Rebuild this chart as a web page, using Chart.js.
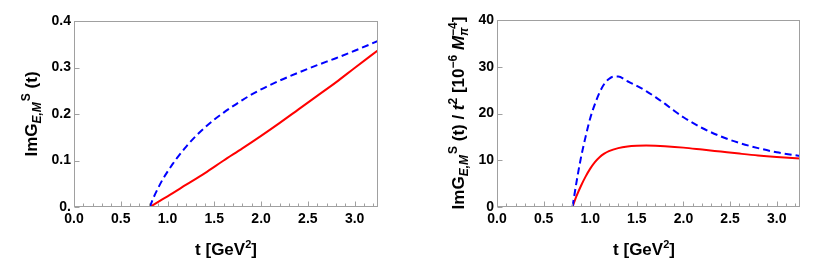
<!DOCTYPE html>
<html><head><meta charset="utf-8">
<script src="https://cdn.jsdelivr.net/npm/chart.js@4.4.0/dist/chart.umd.min.js"></script>
<style>
html,body{margin:0;padding:0;background:#fff;width:822px;height:269px;overflow:hidden}
#l,#r{position:absolute;top:0;width:411px;height:269px}
#l{left:0}#r{left:411px}
</style>
</head><body>
<div id="l"><canvas id="c1" width="411" height="269"></canvas></div>
<div id="r"><canvas id="c2" width="411" height="269"></canvas></div>
<script>
// ---- data ----
const xTicks = [0, 0.5, 1.0, 1.5, 2.0, 2.5, 3.0];
const leftYTicks = [0, 0.1, 0.2, 0.3, 0.4];
const rightYTicks = [0, 10, 20, 30, 40];

const tLeftDashed = [0.81, 0.85, 0.9, 0.95, 1.0, 1.05, 1.1, 1.2, 1.3, 1.4, 1.5, 1.6, 1.7, 1.8, 1.9, 2.0, 2.2, 2.4, 2.6, 2.8, 3.0, 3.25];
const leftDashed  = [0, 0.020, 0.041, 0.060, 0.076, 0.091, 0.105, 0.130, 0.152, 0.171, 0.188, 0.203, 0.217, 0.230, 0.242, 0.253, 0.272, 0.289, 0.305, 0.320, 0.336, 0.357];

const tLeftSolid = [0.81, 0.9, 1.0, 1.2, 1.4, 1.6, 1.8, 2.0, 2.2, 2.4, 2.6, 2.8, 3.0, 3.25];
const leftSolid  = [0, 0.011, 0.023, 0.048, 0.073, 0.100, 0.126, 0.153, 0.181, 0.210, 0.239, 0.268, 0.299, 0.337];

const tRightDashed = [0.81, 0.85, 0.9, 0.95, 1.0, 1.05, 1.1, 1.15, 1.2, 1.25, 1.3, 1.4, 1.5, 1.6, 1.7, 1.8, 1.9, 2.0, 2.2, 2.4, 2.6, 2.8, 3.0, 3.25];
const rightDashed  = [0, 5.0, 10.5, 15.0, 19.0, 22.0, 24.5, 26.3, 27.4, 27.9, 27.9, 26.9, 25.9, 24.8, 23.5, 22.1, 20.6, 19.2, 16.9, 15.1, 13.7, 12.6, 11.7, 10.9];

const tRightSolid = [0.81, 0.85, 0.9, 0.95, 1.0, 1.05, 1.1, 1.15, 1.2, 1.3, 1.4, 1.5, 1.6, 1.7, 1.8, 2.0, 2.2, 2.4, 2.6, 2.8, 3.0, 3.25];
const rightSolid  = [0, 2.2, 4.5, 6.5, 8.2, 9.6, 10.65, 11.4, 11.95, 12.6, 12.95, 13.1, 13.15, 13.1, 13.0, 12.7, 12.28, 11.85, 11.42, 11.02, 10.7, 10.38];

// ---- helpers ----
const FAM = '"Liberation Sans", Arial, Helvetica, sans-serif';
const F = (s, st) => `${st || 'bold'} ${s}px ${FAM}`;
const pts = (xs, ys) => xs.map((x, i) => ({x, y: ys[i]}));

function segWidth(ctx, s) {
  if (s.stack) return Math.max(...s.stack.map(q => segWidth(ctx, q)));
  ctx.font = s.f; return ctx.measureText(s.t).width + (s.gap || 0);
}
function drawSeg(ctx, s, x) {
  ctx.font = s.f; ctx.fillText(s.t, x + (s.pre || 0), s.dy || 0);
}
function drawRich(ctx, segs, cx, cy, rot) {
  ctx.save();
  ctx.translate(cx, cy);
  if (rot) ctx.rotate(-Math.PI / 2);
  const total = segs.reduce((a, s) => a + segWidth(ctx, s), 0);
  let x = -total / 2;
  ctx.fillStyle = '#000'; ctx.textBaseline = 'alphabetic'; ctx.textAlign = 'left';
  for (const s of segs) {
    if (s.stack) s.stack.forEach(q => drawSeg(ctx, q, x));
    else drawSeg(ctx, s, x);
    x += segWidth(ctx, s);
  }
  ctx.restore();
}

const framePlugin = {
  id: 'frameTicks',
  afterDatasetsDraw(chart, args, opts) {
    const {ctx, chartArea: a, scales: {x, y}} = chart;
    ctx.save();
    ctx.strokeStyle = '#a0a0a0'; ctx.lineWidth = 1;
    const L = Math.round(a.left) + 0.5, R = Math.round(a.right) - 0.5;
    const T = Math.round(a.top) + 0.5, B = Math.round(a.bottom) - 0.5;
    ctx.strokeRect(L, T, R - L, B - T);
    ctx.beginPath();
    for (let i = 0; i <= 32; i++) {
      const px = Math.round(x.getPixelForValue(i / 10)) + 0.5;
      const len = (i % 5 === 0) ? 5 : 3;
      ctx.moveTo(px, B); ctx.lineTo(px, B - len);
    }
    for (const v of opts.yTicks) {
      const py = Math.round(y.getPixelForValue(v)) + 0.5;
      ctx.moveTo(L, py); ctx.lineTo(L + 5, py);
    }
    ctx.stroke();
    ctx.restore();
  },
  afterDraw(chart, args, opts) {
    const ctx = chart.ctx;
    for (const t of opts.titles) drawRich(ctx, t.segs, t.x, t.y, t.rot);
  }
};

function makeChart(id, cfg) {
  return new Chart(document.getElementById(id), {
    type: 'line',
    data: {
      datasets: [
        {data: cfg.dashed, borderColor: '#0000ff', borderWidth: 2, borderDash: [7, 4], pointRadius: 0, cubicInterpolationMode: 'monotone', fill: false},
        {data: cfg.solid, borderColor: '#ff0000', borderWidth: 2, pointRadius: 0, cubicInterpolationMode: 'monotone', fill: false}
      ]
    },
    options: {
      responsive: false, animation: false, devicePixelRatio: 1,
      layout: {padding: {top: cfg.top, right: cfg.right, left: 0, bottom: 0}},
      plugins: {legend: {display: false}, tooltip: {enabled: false},
        frameTicks: {yTicks: cfg.yTicks, titles: cfg.titles}},
      scales: {
        x: {
          type: 'linear', min: 0, max: 3.25,
          grid: {display: false, drawTicks: false}, border: {display: false},
          afterBuildTicks: s => { s.ticks = xTicks.map(v => ({value: v})); },
          afterFit: s => { s.height = 269 - cfg.bottom; },
          ticks: {color: '#000', padding: 4, maxRotation: 0, autoSkip: false,
            font: {family: FAM, size: 14, weight: 'bold'},
            callback: v => Number(v).toFixed(1)}
        },
        y: {
          type: 'linear', min: 0, max: cfg.ymax,
          grid: {display: false, drawTicks: false}, border: {display: false},
          afterBuildTicks: s => { s.ticks = cfg.yTicks.map(v => ({value: v})); },
          afterFit: s => { s.width = cfg.left; },
          ticks: {color: '#000', padding: 3, autoSkip: false,
            font: {family: FAM, size: 14, weight: 'bold'},
            callback: cfg.yFmt}
        }
      }
    },
    plugins: [framePlugin]
  });
}

const xTitle = [
  {t: 't [GeV', f: F(17)}, {t: '2', f: F(11), dy: -7}, {t: ']', f: F(17)}
];

makeChart('c1', {
  dashed: pts(tLeftDashed, leftDashed), solid: pts(tLeftSolid, leftSolid),
  yTicks: leftYTicks, ymax: 0.4, left: 74, right: 33, top: 21, bottom: 207,
  yFmt: v => v === 0 ? '0.' : Number(v).toFixed(1),
  titles: [
    {segs: xTitle, x: 226, y: 255, rot: false},
    {segs: [
      {t: 'ImG', f: F(17)}, {t: 'E,M', f: F(12, 'italic bold'), dy: 4, gap: 1},
      {t: 'S', f: F(12), dy: -7}, {t: ' (t)', f: F(17)}
    ], x: 36.5, y: 114, rot: true}
  ]
});

makeChart('c2', {
  dashed: pts(tRightDashed, rightDashed), solid: pts(tRightSolid, rightSolid),
  yTicks: rightYTicks, ymax: 40, left: 86, right: 22, top: 20, bottom: 207,
  yFmt: v => String(v),
  titles: [
    {segs: xTitle, x: 233, y: 255, rot: false},
    {segs: [
      {t: 'ImG', f: F(17)}, {t: 'E,M', f: F(12, 'italic bold'), dy: 4, gap: 1},
      {t: 'S', f: F(12), dy: -7}, {t: ' (t) / ', f: F(17)},
      {t: 't', f: F(17, 'italic bold')}, {t: '2', f: F(12), dy: -7},
      {t: ' [10', f: F(17)}, {t: '\u22126', f: F(12), dy: -7},
      {t: ' ', f: F(17)}, {t: 'M', f: F(17, 'italic bold')},
      {stack: [{t: '\u03c0', f: F(12, 'italic bold'), dy: 4}, {t: '\u22124', f: F(12), dy: -7}]},
      {t: ']', f: F(17)}
    ], x: 52.5, y: 113, rot: true}
  ]
});
</script>
</body></html>
